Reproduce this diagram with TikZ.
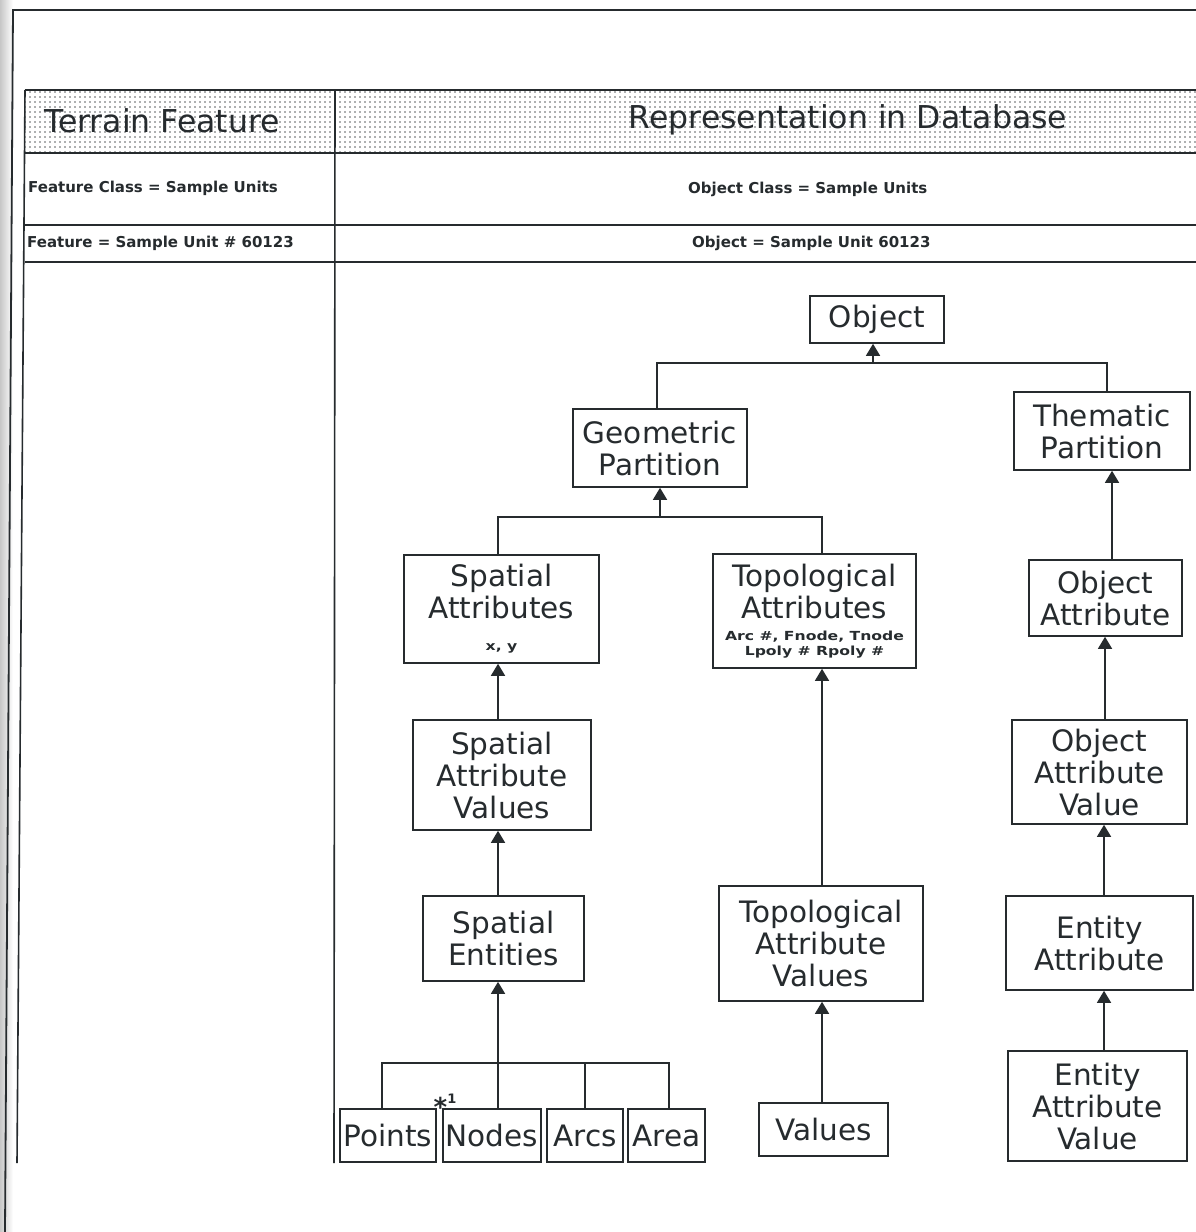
\documentclass[tikz,border=0pt]{standalone}
\usepackage{fontspec}
\setmainfont{DejaVu Sans}
\usetikzlibrary{arrows.meta,patterns.meta}
\definecolor{ink}{HTML}{262B2E}
\newcommand\subtxt[1]{\scalebox{1.25}[1]{\bfseries\fontsize{12.5}{14}\selectfont #1}}
\tikzset{
  frame/.style={draw=ink, line width=1.8pt},
  rule/.style={draw=ink, line width=1.6pt},
  box/.style={draw=ink, line width=1.6pt, fill=white, inner sep=0pt, align=center,
    text=ink, font=\fontsize{29.5}{32}\selectfont},
  link/.style={draw=ink, line width=1.5pt},
  arr/.style={link, -{Triangle[width=14pt,length=12pt]}},
  head/.style={text=ink, font=\fontsize{31.5}{34}\selectfont, inner sep=0pt},
  rowtext/.style={text=ink, font=\bfseries\fontsize{15}{17}\selectfont, inner sep=0pt, anchor=west}
}
\begin{document}
\begin{tikzpicture}[x=1pt, y=-1pt]
\useasboundingbox (0,0) rectangle (1196,1232);
\fill[white] (0,0) rectangle (1196,1232);
% shadow along the bound edge
\shade[left color=black!22, right color=white] (0,0) rectangle (13,1232);
% outer frame
\draw[frame] (1196,10) -- (13,10) -- (5,1232);

% table header band
\fill[pattern={Dots[distance=5pt,radius=0.85pt]}, pattern color=ink!75] (25,90) rectangle (1196,153);
\draw[rule] (25,90) -- (1196,90);
\draw[rule] (25,153) -- (1196,153);
\draw[rule] (25,225) -- (1196,225);
\draw[rule] (25,262) -- (1196,262);
\draw[rule] (25,90) -- (17,1163);
\draw[rule] (335,90) -- (334,1163);

\node[head] (hTerrain) at (162,121) {Terrain Feature};
\node[head] (hRep) at (848,120) {Representation in Database};
\node[rowtext] (fClass) at (28,188) {Feature Class = Sample Units};
\node[rowtext] (fUnit) at (27,243) {Feature = Sample Unit \# 60123};
\node[rowtext] (oClass) at (688,189) {Object Class = Sample Units};
\node[rowtext] (oUnit) at (692,243) {Object = Sample Unit 60123};

% hierarchy boxes
\node[box, minimum width=134pt, minimum height=47pt] (obj) at (877,319.5) {Object};
\node[box, minimum width=174pt, minimum height=78pt] (geo) at (660,448) {Geometric\\Partition};
\node[box, minimum width=176pt, minimum height=78pt] (them) at (1102,431) {Thematic\\Partition};
\node[box, minimum width=195pt, minimum height=108pt] (sa) at (501.5,609)
  {Spatial\\Attributes\\[0pt]\subtxt{x, y}};
\node[box, minimum width=203pt, minimum height=114pt] (ta) at (814.5,611)
  {Topological\\Attributes\\[-10pt]\subtxt{Arc \#, Fnode, Tnode}\\[-17pt]\subtxt{Lpoly \# Rpoly \#}};
\node[box, minimum width=178pt, minimum height=110pt] (sav) at (502,775) {Spatial\\Attribute\\Values};
\node[box, minimum width=161pt, minimum height=85pt] (se) at (503.5,938.5) {Spatial\\Entities};
\node[box, minimum width=96pt, minimum height=53pt] (pts) at (388,1135.5) {Points};
\node[box, minimum width=98pt, minimum height=53pt] (nds) at (492,1135.5) {Nodes};
\node[box, minimum width=76pt, minimum height=53pt] (arcs) at (585,1135.5) {Arcs};
\node[box, minimum width=77pt, minimum height=53pt] (area) at (666.5,1135.5) {Area};
\node[box, minimum width=204pt, minimum height=115pt] (tav) at (821,943.5) {Topological\\Attribute\\Values};
\node[box, minimum width=129pt, minimum height=53pt] (vals) at (823.5,1129.5) {Values};
\node[box, minimum width=153pt, minimum height=76pt] (oa) at (1105.5,598) {Object\\Attribute};
\node[box, minimum width=175pt, minimum height=104pt] (oav) at (1099.5,772) {Object\\Attribute\\Value};
\node[box, minimum width=187pt, minimum height=94pt] (ea) at (1099.5,943) {Entity\\Attribute};
\node[box, minimum width=179pt, minimum height=110pt] (eav) at (1097.5,1106) {Entity\\Attribute\\Value};
\node[text=ink, inner sep=0pt, font=\bfseries\fontsize{26}{26}\selectfont] (star) at (445,1105)
  {*\raisebox{13pt}{\fontsize{13}{13}\selectfont 1}};

% bus points
\coordinate (topL) at (657,363);
\coordinate (topR) at (1107,363);
\coordinate (topC) at (873,363);
\coordinate (midL) at (498,517);
\coordinate (midR) at (822,517);
\coordinate (midC) at (660,517);
\coordinate (botL) at (382,1063);
\coordinate (botC) at (498,1063);
\coordinate (botA) at (585,1063);
\coordinate (botR) at (669,1063);
\coordinate (colT) at (822,0);
\coordinate (colA) at (1112,0);
\coordinate (colB) at (1105,0);
\coordinate (colC) at (1104,0);

% top level
\draw[link] (topL |- geo.north) -- (topL) -- (topR) -- (topR |- them.north);
\draw[arr] (topC) -- (topC |- obj.south);
% geometric branch
\draw[link] (midL |- sa.north) -- (midL) -- (midR) -- (midR |- ta.north);
\draw[arr] (midC) -- (midC |- geo.south);
\draw[arr] (midL |- sav.north) -- (midL |- sa.south);
\draw[arr] (midL |- se.north) -- (midL |- sav.south);
\draw[arr] (botC |- nds.north) -- (botC |- se.south);
\draw[link] (botL |- pts.north) -- (botL) -- (botR) -- (botR |- area.north);
\draw[link] (botA) -- (botA |- arcs.north);
% topological branch
\draw[arr] (colT |- tav.north) -- (colT |- ta.south);
\draw[arr] (colT |- vals.north) -- (colT |- tav.south);
% thematic branch
\draw[arr] (colA |- oa.north) -- (colA |- them.south);
\draw[arr] (colB |- oav.north) -- (colB |- oa.south);
\draw[arr] (colC |- ea.north) -- (colC |- oav.south);
\draw[arr] (colC |- eav.north) -- (colC |- ea.south);
\end{tikzpicture}
\end{document}
